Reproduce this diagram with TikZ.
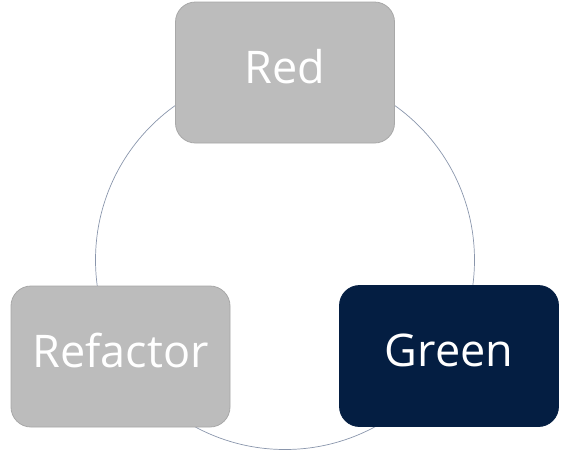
\documentclass[tikz,border=0pt]{standalone}
\usepackage{fontspec}
\setmainfont{Open Sans}
\begin{document}
\begin{tikzpicture}[x=1pt,y=-1pt,
  box/.style={draw=boxline, line width=0.8pt, rounded corners=20pt, minimum width=219pt, minimum height=141pt, inner sep=0pt, text depth=12pt, text=white, font=\fontsize{45}{45}\selectfont},
  graybox/.style={box, fill=boxgray},
  navybox/.style={box, fill=navy, draw=navy},
  ring/.style={draw=ringcol, line width=0.7pt}]
\definecolor{boxgray}{HTML}{BCBCBC}
\definecolor{boxline}{HTML}{A8A8A8}
\definecolor{navy}{HTML}{041E42}
\definecolor{ringcol}{HTML}{8A96AC}
\useasboundingbox (0,0) rectangle (566,459);
\coordinate (c) at (285,260);
\draw[ring] (c) circle[radius=189.5];
\node[graybox] (red) at (285,72.5) {Red};
\node[graybox] (refactor) at (120.5,356.5) {Refactor};
\node[navybox] (green) at (449,356) {Green};
\end{tikzpicture}
\end{document}
